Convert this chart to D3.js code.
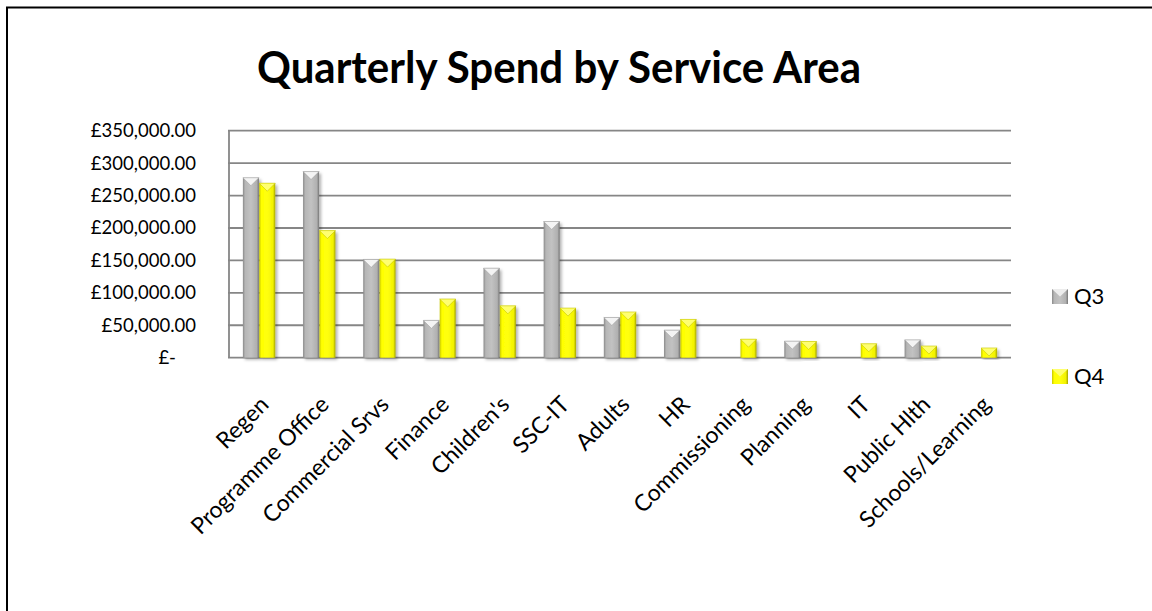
<!DOCTYPE html>
<html>
<head>
<meta charset="utf-8">
<script src="https://cdn.jsdelivr.net/npm/d3@7"></script>
<style>
  body { margin: 0; background: #fff; }
  text { font-family: Lato, "Open Sans", sans-serif; fill: #000; }
</style>
</head>
<body>
<div id="chart"></div>
<script>
// data
var categories = ["Regen", "Programme Office", "Commercial Srvs", "Finance", "Children's", "SSC-IT",
                  "Adults", "HR", "Commissioning", "Planning", "IT", "Public Hlth", "Schools/Learning"];
var seriesNames = ["Q3", "Q4"];
var q3 = [277500, 287000, 151500, 57500, 138000, 210000, 62000, 42500, 0, 25500, 0, 27500, 0];
var q4 = [269000, 196000, 152000, 90500, 80000, 76500, 70500, 59000, 28500, 25000, 21500, 18000, 15000];
var yTicks = [0, 50000, 100000, 150000, 200000, 250000, 300000, 350000];

var W = 1152, H = 611;
var plot = {left: 229, right: 1011, top: 130.7, bottom: 357.7};

var svg = d3.select("#chart").append("svg")
    .attr("width", W).attr("height", H);

var defs = svg.append("defs");
function grad(id, stops) {
  var g = defs.append("linearGradient").attr("id", id)
      .attr("x1", "0%").attr("x2", "100%").attr("y1", "0%").attr("y2", "0%");
  stops.forEach(function(s) {
    g.append("stop").attr("offset", s[0]).attr("stop-color", s[1]);
  });
}
grad("g-q3", [["0%", "#8a8a8a"], ["14%", "#b6b6b6"], ["50%", "#c2c2c2"], ["86%", "#b0b0b0"], ["100%", "#767676"]]);
grad("g-q4", [["0%", "#c8c800"], ["14%", "#ffff00"], ["50%", "#ffff10"], ["86%", "#f2f200"], ["100%", "#a3a300"]]);
var sh = defs.append("filter").attr("id", "shadow")
    .attr("x", "-30%").attr("y", "-10%").attr("width", "170%").attr("height", "130%");
sh.append("feDropShadow").attr("dx", 2).attr("dy", 2).attr("stdDeviation", 1.6)
    .attr("flood-color", "#000").attr("flood-opacity", 0.3);

// outer frame
svg.append("rect")
    .attr("x", 7).attr("y", 7.5).attr("width", W).attr("height", H)
    .attr("fill", "none").attr("stroke", "#000").attr("stroke-width", 2);

// title
svg.append("text")
    .attr("x", 559).attr("y", 83)
    .attr("text-anchor", "middle")
    .attr("font-size", 44).attr("font-weight", 700)
    .attr("textLength", 604).attr("lengthAdjust", "spacingAndGlyphs")
    .text("Quarterly Spend by Service Area");

var x0 = d3.scaleBand().domain(categories).range([plot.left, plot.right]);
var x1 = d3.scaleBand().domain(seriesNames)
    .range([x0.bandwidth() / 2 - 16.5, x0.bandwidth() / 2 + 16.5]).padding(0.02);
var y = d3.scaleLinear().domain([0, 350000]).range([plot.bottom, plot.top]);

// gridlines
var fmt = d3.format(",.2f");
svg.append("g").selectAll("line").data(yTicks).enter().append("line")
    .attr("x1", plot.left - 1).attr("x2", plot.right)
    .attr("y1", function(d) { return y(d); }).attr("y2", function(d) { return y(d); })
    .attr("stroke", "#868686").attr("stroke-width", 1.8);
svg.append("line")
    .attr("x1", plot.left).attr("x2", plot.left)
    .attr("y1", plot.top).attr("y2", plot.bottom)
    .attr("stroke", "#868686").attr("stroke-width", 1.8);

// y labels
svg.append("g").selectAll("text").data(yTicks).enter().append("text")
    .attr("x", function(d) { return d === 0 ? 176 : 196; })
    .attr("y", function(d) { return y(d) + 6.5; })
    .attr("text-anchor", "end")
    .attr("font-size", 18.5)
    .text(function(d) { return d === 0 ? "£-" : "£" + fmt(d); });

// bars
var rows = categories.map(function(c, i) { return {cat: c, vals: [q3[i], q4[i]]}; });
var groups = svg.append("g").selectAll("g").data(rows).enter().append("g")
    .attr("transform", function(d) { return "translate(" + x0(d.cat) + ",0)"; });

var bars = groups.selectAll("g.bar")
    .data(function(d) {
      return seriesNames.map(function(s, j) { return {s: s, v: d.vals[j]}; })
        .filter(function(b) { return b.v > 0; });
    })
    .enter().append("g").attr("class", "bar");

bars.append("rect")
    .attr("x", function(d) { return x1(d.s); })
    .attr("y", function(d) { return y(d.v); })
    .attr("width", x1.bandwidth())
    .attr("height", function(d) { return plot.bottom - y(d.v); })
    .attr("fill", function(d) { return d.s === "Q3" ? "url(#g-q3)" : "url(#g-q4)"; })
    .attr("filter", "url(#shadow)");

// bevelled top
bars.append("path")
    .attr("d", function(d) {
      var l = x1(d.s), w = x1.bandwidth(), t = y(d.v);
      var h = Math.min(w / 2, plot.bottom - t);
      return "M" + l + "," + t + "L" + (l + w) + "," + t + "L" + (l + w / 2) + "," + (t + h) + "Z";
    })
    .attr("fill", function(d) { return d.s === "Q3" ? "#f4f4f4" : "#ffff70"; })
    .attr("stroke", function(d) { return d.s === "Q3" ? "#a0a0a0" : "#c8c800"; })
    .attr("stroke-width", 0.6);

// x labels
svg.append("g").selectAll("text").data(categories).enter().append("text")
    .attr("transform", function(d) {
      return "translate(" + (x0(d) + x0.bandwidth() / 2 + 11) + ",406) rotate(-45)";
    })
    .attr("text-anchor", "end")
    .attr("font-size", 23)
    .text(function(d) { return d; });

// legend
var legendY = [289, 369];
var legend = svg.append("g").selectAll("g").data(seriesNames).enter().append("g")
    .attr("transform", function(d, i) { return "translate(1052," + legendY[i] + ")"; });
legend.append("rect")
    .attr("width", 16).attr("height", 15)
    .attr("fill", function(d) { return d === "Q3" ? "url(#g-q3)" : "url(#g-q4)"; });
legend.append("path")
    .attr("d", "M0,0L16,0L8,7.5Z")
    .attr("fill", function(d) { return d === "Q3" ? "#ececec" : "#ffff70"; });
legend.append("text")
    .attr("x", 22).attr("y", 15)
    .attr("font-size", 22)
    .text(function(d) { return d; });
</script>
</body>
</html>
